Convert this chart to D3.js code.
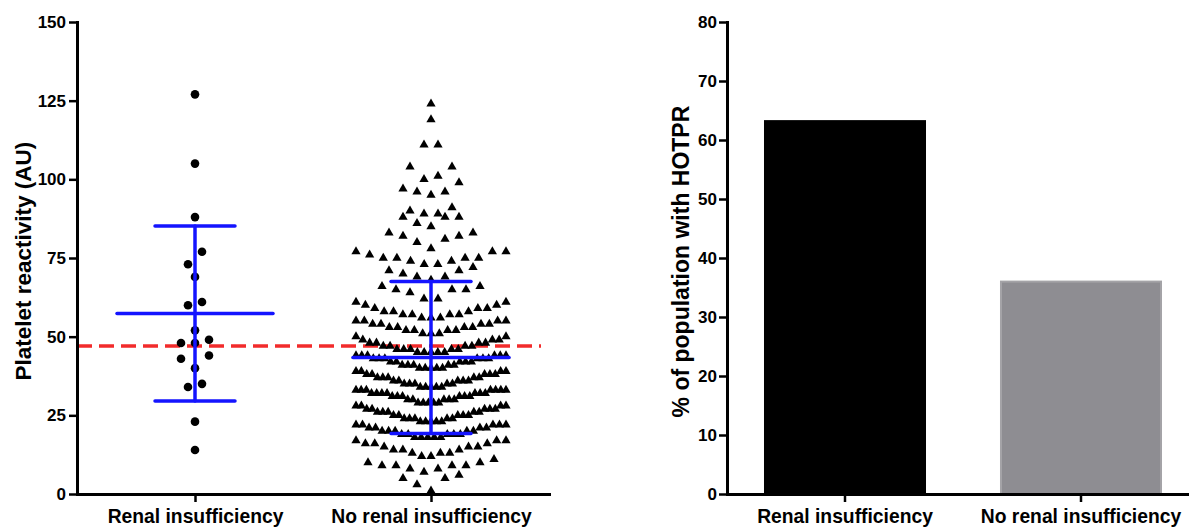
<!DOCTYPE html>
<html>
<head>
<meta charset="utf-8">
<script src="https://cdn.jsdelivr.net/npm/d3@7"></script>
<style>
  body { margin: 0; background: #fff; }
  svg text { font-family: "Liberation Sans", Arial, sans-serif; font-weight: bold; fill: #000; }
</style>
</head>
<body>
<div id="wrapper"></div>
<script>

// groupes (axe X des deux graphiques)
var groupes = ['Renal insufficiency', 'No renal insufficiency'];

// Platelet reactivity (AU), un point par patient
var renal = [127, 105, 88, 77, 73, 69, 61, 60, 52, 49, 48, 48, 44, 43, 40, 35, 34, 23, 14];

var noRenal = [
    124, 119, 111, 111, 104, 104, 101, 100, 99, 97, 96, 96, 95, 91, 90, 89, 89, 88, 88, 88,
    86, 85, 83, 83, 82, 82, 81, 80, 78,
    77, 77, 77, 76, 75, 75, 75, 75, 74, 74, 73, 73,
    72, 71, 71, 70, 69, 69, 68,
    66, 66, 65, 65, 65, 64, 62, 62,
    61, 61, 60, 60, 59, 59, 59, 58, 58, 58, 57, 57, 57, 57, 56, 56, 56,
    55, 55, 55, 55, 54, 54, 54, 54, 53, 53, 53, 53, 52, 52, 52, 52, 51, 51, 51,
    50, 50, 49, 49, 49, 48, 48, 48, 48, 47, 47, 47, 47, 46, 46, 46, 46, 46, 45, 45, 45, 45, 45,
    44, 44, 44, 44, 44, 44, 43, 43, 43, 43, 43, 43, 42, 42, 42, 42, 42, 41, 41, 41, 41, 41, 40, 40, 40, 40, 40,
    39, 39, 39, 39, 38, 38, 38, 38, 38, 37, 37, 37, 37, 37, 36, 36, 36, 36, 36, 35, 35, 35, 35, 35, 34, 34, 34, 34, 34,
    33, 33, 33, 33, 33, 33, 33, 32, 32, 32, 32, 32, 32, 32, 31, 31, 31, 31, 31, 31, 30, 30, 30, 30, 30, 29, 29, 29, 29, 29,
    28, 28, 28, 28, 27, 27, 27, 27, 27, 26, 26, 26, 26, 26, 25, 25, 25, 25, 25, 24, 24, 24, 24, 24, 23, 23, 23, 23, 23,
    22, 22, 22, 22, 22, 21, 21, 21, 21, 20, 20, 20, 20, 20, 19, 19, 19, 19, 19, 18, 18, 18, 18, 18,
    17, 17, 17, 16, 16, 16, 15, 15, 15, 14, 14, 14, 13, 13, 13, 12, 12,
    11, 10, 10, 9, 9, 9, 9, 8, 8, 7,
    6, 5, 5, 3, 1
];

var seuil = 47; // seuil HOTPR (ligne rouge)

// % of population with HOTPR
var hotpr = [63.2, 36.0];

var ticksGauche = [0, 25, 50, 75, 100, 125, 150];
var ticksDroite = [0, 10, 20, 30, 40, 50, 60, 70, 80];


/**
 * @desc place les points comme un "scatter dot plot" : regroupement par tranches de valeur,
 *  dans chaque tranche les points tries vont du centre vers l'exterieur.
 */
function essaim(valeurs, cx) {
    var hauteurTranche = 5.5, base = 72.5, pas = 14, largeurMax = 150;
    var tranches = d3.group(valeurs, function (v) { return Math.floor((v - base) / hauteurTranche); });
    var pts = [];
    tranches.forEach(function (liste) {
        liste = liste.slice().sort(d3.ascending);
        var n = liste.length;
        var s = n > 1 ? Math.min(pas, largeurMax / (n - 1)) : 0;
        liste.forEach(function (v, k) {
            var o;
            if (n % 2) o = k == 0 ? 0 : Math.ceil(k / 2) * (k % 2 ? -1 : 1);
            else o = (Math.floor(k / 2) + 0.5) * (k % 2 ? 1 : -1);
            pts.push({ v: v, x: cx + o * s });
        });
    });
    return pts;
}

function styleAxe(g) {
    g.attr('font-family', null).attr('font-size', null);
    g.select('.domain').attr('stroke', '#000').attr('stroke-width', 3).attr('stroke-linecap', 'square');
    g.selectAll('.tick line').attr('stroke', '#000').attr('stroke-width', 2.5);
    g.selectAll('.tick text').attr('fill', '#000');
}

var svg = d3.select('#wrapper')
    .append('svg')
    .attr('width', 1189)
    .attr('height', 527);

// ---------- graphique de gauche : dispersion
var yG = d3.scaleLinear().domain([0, 150]).range([494, 22]);
var xG = d3.scalePoint().domain(groupes).range([77, 549]).padding(0.5);

// ligne seuil
svg.append('line')
    .attr('x1', xG.range()[0]).attr('x2', xG.range()[1] - 8)
    .attr('y1', yG(seuil)).attr('y2', yG(seuil))
    .attr('stroke', '#f22b2b').attr('stroke-width', 3.5)
    .attr('stroke-dasharray', '15,7');

var ptsR = essaim(renal, xG(groupes[0]));
svg.append('g').selectAll('circle')
    .data(ptsR).enter()
    .append('circle')
    .attr('cx', function (d) { return d.x; })
    .attr('cy', function (d) { return yG(d.v); })
    .attr('r', 4.3)
    .attr('fill', '#000');

var ptsN = essaim(noRenal, xG(groupes[1]));
var tri = d3.symbol().type(d3.symbolTriangle).size(37);
svg.append('g').selectAll('path')
    .data(ptsN).enter()
    .append('path')
    .attr('d', tri)
    .attr('transform', function (d) { return 'translate(' + d.x + ',' + yG(d.v) + ')'; })
    .attr('fill', '#000');

// moyenne +/- ecart type
[renal, noRenal].forEach(function (vals, i) {
    var m = d3.mean(vals), s = d3.deviation(vals), cx = xG(groupes[i]);
    var g = svg.append('g').attr('stroke', '#1414ff').attr('stroke-width', 3.5).attr('stroke-linecap', 'round');
    g.append('line').attr('x1', cx).attr('x2', cx).attr('y1', yG(m - s)).attr('y2', yG(m + s));
    g.append('line').attr('x1', cx - 78).attr('x2', cx + 78).attr('y1', yG(m)).attr('y2', yG(m));
    [m - s, m + s].forEach(function (v) {
        g.append('line').attr('x1', cx - 40).attr('x2', cx + 40).attr('y1', yG(v)).attr('y2', yG(v));
    });
});

svg.append('g').attr('transform', 'translate(77,0)')
    .call(d3.axisLeft(yG).tickValues(ticksGauche).tickSize(8).tickSizeOuter(0).tickPadding(3))
    .call(styleAxe)
    .selectAll('.tick text').style('font-size', '17px');

svg.append('g').attr('transform', 'translate(0,494)')
    .call(d3.axisBottom(xG).tickSize(8).tickSizeOuter(0).tickPadding(7))
    .call(styleAxe)
    .selectAll('.tick text').style('font-size', '19.3px');

svg.append('text')
    .attr('transform', 'translate(31,' + yG(74) + ') rotate(-90)')
    .attr('text-anchor', 'middle')
    .style('font-size', '22.5px')
    .text('Platelet reactivity (AU)');

// ---------- graphique de droite : barres
var yD = d3.scaleLinear().domain([0, 80]).range([494, 22]);
var xD = d3.scaleBand().domain(groupes).range([727, 1199]).paddingInner(0.322).paddingOuter(0.161);
var couleurs = ['#000000', '#8e8d92'];
var bords = ['#000000', '#a4a3a7'];

svg.append('g').selectAll('rect')
    .data(hotpr).enter()
    .append('rect')
    .attr('x', function (d, i) { return xD(groupes[i]); })
    .attr('width', xD.bandwidth())
    .attr('y', function (d) { return yD(d); })
    .attr('height', function (d) { return yD(0) - yD(d); })
    .attr('fill', function (d, i) { return couleurs[i]; })
    .attr('stroke', function (d, i) { return bords[i]; })
    .attr('stroke-width', 2);

svg.append('g').attr('transform', 'translate(727,0)')
    .call(d3.axisLeft(yD).tickValues(ticksDroite).tickSize(8).tickSizeOuter(0).tickPadding(2))
    .call(styleAxe)
    .selectAll('.tick text').style('font-size', '17px');

svg.append('g').attr('transform', 'translate(0,494)')
    .call(d3.axisBottom(xD).tickSize(8).tickSizeOuter(0).tickPadding(7))
    .call(styleAxe)
    .selectAll('.tick text').style('font-size', '19.3px');

svg.append('text')
    .attr('transform', 'translate(689,' + yD(39.4) + ') rotate(-90)')
    .attr('text-anchor', 'middle')
    .style('font-size', '23px')
    .text('% of population with HOTPR');

</script>
</body>
</html>
